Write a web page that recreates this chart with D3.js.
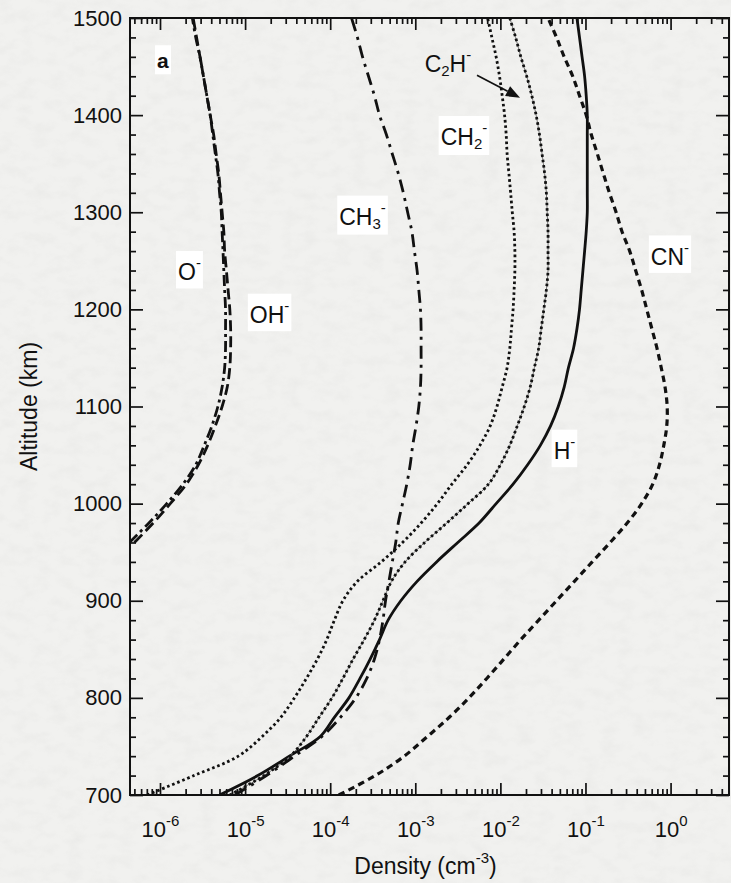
<!DOCTYPE html>
<html>
<head>
<meta charset="utf-8">
<script src="https://cdn.jsdelivr.net/npm/d3@7/dist/d3.min.js"></script>
<style>
  html, body { margin: 0; padding: 0; background: #f0f0ee; }
  svg { display: block; }
  text { font-family: "Liberation Sans", Arial, Helvetica, sans-serif; fill: #111; }
</style>
</head>
<body>
<svg id="chart" width="731" height="883"></svg>
<script>
// Altitude grids (km)
const altitudeKm = [700,720,740,760,780,800,820,840,860,880,900,920,940,960,980,
  1000,1020,1040,1060,1080,1100,1120,1140,1160,1180,1200,1220,1240,1260,1280,
  1300,1320,1340,1360,1380,1400,1420,1440,1460,1480,1500];
const altitudeOxyKm = [960,980,1000,1020,1040,1060,1080,1100,1120,1140,1160,1180,1200,
  1220,1240,1260,1280,1300,1320,1340,1360,1380,1400,1420,1440,1460,1480,1500];

// Negative ion densities (cm^-3)
const hMinus = [5.0e-6,1.41e-5,3.31e-5,7.59e-5,1.12e-4,1.66e-4,2.24e-4,2.95e-4,3.80e-4,4.79e-4,
  6.76e-4,1.05e-3,1.78e-3,3.16e-3,5.62e-3,8.91e-3,1.41e-2,2.09e-2,2.95e-2,3.89e-2,
  4.79e-2,5.62e-2,6.31e-2,7.24e-2,7.94e-2,8.51e-2,8.91e-2,9.33e-2,9.77e-2,0.102,
  0.105,0.105,0.105,0.105,0.105,0.105,0.102,9.77e-2,9.12e-2,8.51e-2,7.94e-2];
const cnMinus = [1.26e-4,3.39e-4,7.41e-4,1.38e-3,2.51e-3,4.27e-3,6.92e-3,1.10e-2,1.74e-2,2.82e-2,
  4.57e-2,7.41e-2,0.120,0.195,0.309,0.457,0.617,0.741,0.832,0.902,
  0.912,0.861,0.776,0.692,0.603,0.525,0.457,0.389,0.331,0.269,
  0.229,0.191,0.162,0.138,0.117,0.102,8.51e-2,7.08e-2,5.62e-2,4.57e-2,3.63e-2];
const ch2Minus = [7.08e-7,2.51e-6,8.32e-6,1.58e-5,2.63e-5,3.80e-5,5.25e-5,7.08e-5,9.12e-5,1.12e-4,
  1.41e-4,2.09e-4,3.98e-4,7.08e-4,1.17e-3,1.82e-3,2.69e-3,4.07e-3,5.75e-3,7.59e-3,
  9.12e-3,1.05e-2,1.20e-2,1.29e-2,1.35e-2,1.41e-2,1.45e-2,1.48e-2,1.48e-2,1.45e-2,
  1.38e-2,1.32e-2,1.26e-2,1.20e-2,1.17e-2,1.12e-2,1.05e-2,9.77e-3,8.91e-3,7.94e-3,7.08e-3];
const c2hMinus = [6.61e-6,1.66e-5,3.39e-5,5.25e-5,7.41e-5,1.05e-4,1.41e-4,1.86e-4,2.51e-4,3.31e-4,
  4.17e-4,5.25e-4,7.59e-4,1.29e-3,2.34e-3,4.17e-3,7.24e-3,1.00e-2,1.29e-2,1.58e-2,
  1.91e-2,2.24e-2,2.51e-2,2.82e-2,3.02e-2,3.24e-2,3.47e-2,3.63e-2,3.63e-2,3.63e-2,
  3.55e-2,3.47e-2,3.31e-2,3.09e-2,2.88e-2,2.63e-2,2.34e-2,2.04e-2,1.74e-2,1.51e-2,1.29e-2];
const ch3Minus = [7.59e-6,1.78e-5,3.80e-5,7.94e-5,1.32e-4,2.00e-4,2.69e-4,3.31e-4,3.80e-4,4.17e-4,
  4.47e-4,4.90e-4,5.37e-4,5.89e-4,6.31e-4,7.08e-4,7.94e-4,8.71e-4,9.33e-4,1.02e-3,
  1.10e-3,1.15e-3,1.17e-3,1.17e-3,1.17e-3,1.15e-3,1.10e-3,1.05e-3,9.77e-4,9.12e-4,
  8.13e-4,7.24e-4,6.31e-4,5.37e-4,4.57e-4,3.80e-4,3.31e-4,2.82e-4,2.40e-4,2.09e-4,1.78e-4];
const oMinus = [5.01e-7,8.32e-7,1.32e-6,2.04e-6,2.82e-6,3.63e-6,4.47e-6,5.37e-6,6.17e-6,6.61e-6,
  6.76e-6,6.76e-6,6.61e-6,6.31e-6,6.03e-6,5.75e-6,5.62e-6,5.37e-6,5.13e-6,4.90e-6,
  4.57e-6,4.27e-6,3.89e-6,3.55e-6,3.24e-6,2.95e-6,2.69e-6,2.45e-6];
const ohMinus = [4.37e-7,7.41e-7,1.20e-6,1.86e-6,2.63e-6,3.31e-6,4.07e-6,4.79e-6,5.37e-6,5.75e-6,
  5.89e-6,5.89e-6,5.89e-6,5.75e-6,5.62e-6,5.50e-6,5.37e-6,5.25e-6,5.01e-6,4.79e-6,
  4.47e-6,4.17e-6,3.89e-6,3.55e-6,3.24e-6,2.95e-6,2.63e-6,2.40e-6];

// Axis ticks
const altitudeTicks = [700,800,900,1000,1100,1200,1300,1400,1500];
const densityDecades = [1e-6,1e-5,1e-4,1e-3,1e-2,1e-1,1e0];
const decadeExponents = ["-6","-5","-4","-3","-2","-1","0"];

const svg = d3.select("#chart");
const W = 731, H = 883;
const plot = { left: 130, right: 729, top: 18, bottom: 795 };
const INK = "#111";

// Paper background with a faint grain
const defs = svg.append("defs");
const grain = defs.append("filter").attr("id", "grain")
  .attr("x", 0).attr("y", 0).attr("width", "100%").attr("height", "100%");
grain.append("feTurbulence").attr("type", "fractalNoise")
  .attr("baseFrequency", "0.06 0.09").attr("numOctaves", 3).attr("seed", 11).attr("result", "n");
grain.append("feColorMatrix").attr("in", "n").attr("type", "matrix")
  .attr("values", "0 0 0 0 0.45  0 0 0 0 0.45  0 0 0 0 0.44  0.45 0 0 0 -0.19");
svg.append("rect").attr("width", W).attr("height", H).attr("fill", "#f1f1ef");
svg.append("rect").attr("width", W).attr("height", H).attr("fill", "#fff")
  .attr("filter", "url(#grain)").attr("opacity", 0.4);

defs.append("clipPath").attr("id", "plotClip").append("rect")
  .attr("x", plot.left).attr("y", plot.top)
  .attr("width", plot.right - plot.left).attr("height", plot.bottom - plot.top);

const x = d3.scaleLog().domain([4.44e-7, 4.86]).range([plot.left, plot.right]);
const y = d3.scaleLinear().domain([700, 1500]).range([plot.bottom, plot.top]);

// Profiles; each entry may stack several strokes to build its line pattern
const series = [
  { name: "H-",   alt: altitudeKm,    dens: hMinus,   strokes: [{ w: 2.8, dash: null }] },
  { name: "CN-",  alt: altitudeKm,    dens: cnMinus,  strokes: [{ w: 3.2, dash: "6.5,4.5" }] },
  { name: "CH2-", alt: altitudeKm,    dens: ch2Minus, strokes: [{ w: 2.8, dash: "2.6,2.8" }] },
  { name: "C2H-", alt: altitudeKm,    dens: c2hMinus, strokes: [{ w: 0.9, dash: null, c: "#666" },
                                                              { w: 2.8, dash: "2.6,2.8" }] },
  { name: "CH3-", alt: altitudeKm,    dens: ch3Minus, strokes: [{ w: 2.8, dash: "13,6,3,6" }] },
  { name: "O-",   alt: altitudeOxyKm, dens: oMinus,   strokes: [{ w: 2.8, dash: "11,5" }] },
  { name: "OH-",  alt: altitudeOxyKm, dens: ohMinus,  strokes: [{ w: 2.8, dash: "11,4,3,4" }] }
];

const line = d3.line()
  .x(d => x(d[1]))
  .y(d => y(d[0]))
  .curve(d3.curveCatmullRom.alpha(0.5));

const curves = svg.append("g").attr("clip-path", "url(#plotClip)");
series.forEach(s => {
  const pts = s.alt.map((a, i) => [a, s.dens[i]]);
  s.strokes.forEach(st => {
    curves.append("path")
      .datum(pts)
      .attr("d", line)
      .attr("fill", "none")
      .attr("stroke", st.c || INK)
      .attr("stroke-width", st.w)
      .attr("stroke-dasharray", st.dash)
      .attr("stroke-linejoin", "round");
  });
});

// Axes (ticks point into the plot)
const minorDensity = x.ticks().filter(v => densityDecades.indexOf(v) < 0 &&
  v >= x.domain()[0] && v <= x.domain()[1]);
const minorAltitude = d3.range(700, 1501, 20).filter(v => v % 100 !== 0);

function styleAxis(g) {
  g.select(".domain").remove();
  g.selectAll(".tick line").attr("stroke", INK).attr("stroke-width", 1.7);
}

svg.append("g").attr("transform", `translate(0,${plot.bottom})`)
  .call(d3.axisBottom(x).tickValues(minorDensity).tickSizeInner(-6).tickSizeOuter(0).tickFormat(""))
  .call(styleAxis);
const xMajor = svg.append("g").attr("transform", `translate(0,${plot.bottom})`)
  .call(d3.axisBottom(x).tickValues(densityDecades).tickSizeInner(-12).tickSizeOuter(0)
    .tickFormat((d, i) => decadeExponents[i]))
  .call(styleAxis);
xMajor.selectAll(".tick text").each(function (d, i) {
  const t = d3.select(this);
  const exp = decadeExponents[i];
  t.text(null).attr("font-size", 22).attr("dy", null).attr("y", 42)
    .attr("text-anchor", "middle").attr("fill", INK)
    .attr("font-family", "'Liberation Sans', Arial, sans-serif");
  t.append("tspan").text("10");
  t.append("tspan").attr("font-size", 15).attr("dy", -11).text(exp);
});

svg.append("g").attr("transform", `translate(0,${plot.top})`)
  .call(d3.axisTop(x).tickValues(minorDensity).tickSizeInner(-6).tickSizeOuter(0).tickFormat(""))
  .call(styleAxis);
svg.append("g").attr("transform", `translate(0,${plot.top})`)
  .call(d3.axisTop(x).tickValues(densityDecades).tickSizeInner(-12).tickSizeOuter(0).tickFormat(""))
  .call(styleAxis);

svg.append("g").attr("transform", `translate(${plot.left},0)`)
  .call(d3.axisLeft(y).tickValues(minorAltitude).tickSizeInner(-6).tickSizeOuter(0).tickFormat(""))
  .call(styleAxis);
const yMajor = svg.append("g").attr("transform", `translate(${plot.left},0)`)
  .call(d3.axisLeft(y).tickValues(altitudeTicks).tickSizeInner(-13).tickSizeOuter(0)
    .tickFormat(d3.format("d")))
  .call(styleAxis);
yMajor.selectAll(".tick text").attr("font-size", 22).attr("x", -8).attr("fill", INK)
  .attr("font-family", "'Liberation Sans', Arial, sans-serif");

svg.append("g").attr("transform", `translate(${plot.right},0)`)
  .call(d3.axisRight(y).tickValues(minorAltitude).tickSizeInner(-6).tickSizeOuter(0).tickFormat(""))
  .call(styleAxis);
svg.append("g").attr("transform", `translate(${plot.right},0)`)
  .call(d3.axisRight(y).tickValues(altitudeTicks).tickSizeInner(-13).tickSizeOuter(0).tickFormat(""))
  .call(styleAxis);

// Frame
svg.append("rect")
  .attr("x", plot.left).attr("y", plot.top)
  .attr("width", plot.right - plot.left).attr("height", plot.bottom - plot.top)
  .attr("fill", "none").attr("stroke", INK).attr("stroke-width", 2);

// Axis titles
svg.append("text")
  .attr("transform", `translate(37,${(plot.top + plot.bottom) / 2}) rotate(-90)`)
  .attr("text-anchor", "middle").attr("font-size", 23)
  .text("Altitude (km)");
const xt = svg.append("text")
  .attr("x", (plot.left + plot.right) / 2 - 4).attr("y", 874)
  .attr("text-anchor", "middle").attr("font-size", 23);
xt.append("tspan").text("Density (cm");
xt.append("tspan").attr("font-size", 15).attr("dy", -11).text("-3");
xt.append("tspan").attr("dy", 11).text(")");

// Species labels, anchored in data space; parts: [text, kind] with kind sub/sup/normal
const labels = [
  { parts: [["a", "b"]], alt: 1457, dens: 1.08e-6, box: true },
  { parts: [["O", ""], ["-", "sup"]], alt: 1238, dens: 2.22e-6, box: true },
  { parts: [["OH", ""], ["-", "sup"]], alt: 1194, dens: 1.94e-5, box: true },
  { parts: [["CH", ""], ["3", "sub"], ["-", "sup2"]], alt: 1295, dens: 2.40e-4, box: true },
  { parts: [["CH", ""], ["2", "sub"], ["-", "sup2"]], alt: 1377, dens: 3.73e-3, box: true },
  { parts: [["C", ""], ["2", "sub"], ["H", "back"], ["-", "sup"]], alt: 1453, dens: 2.42e-3, box: false },
  { parts: [["CN", ""], ["-", "sup"]], alt: 1254, dens: 0.984, box: true },
  { parts: [["H", ""], ["-", "sup"]], alt: 1054, dens: 5.66e-2, box: true }
];

const labelLayer = svg.append("g");
labels.forEach(l => {
  const g = labelLayer.append("g");
  const t = g.append("text").attr("x", x(l.dens)).attr("y", y(l.alt))
    .attr("text-anchor", "middle").attr("dominant-baseline", "central")
    .attr("font-size", 23);
  l.parts.forEach(([txt, kind]) => {
    const ts = t.append("tspan").text(txt);
    if (kind === "b") ts.attr("font-weight", "bold").attr("font-size", 21);
    if (kind === "sub") ts.attr("font-size", 15).attr("dy", 6);
    if (kind === "back") ts.attr("dy", -6);
    if (kind === "sup") ts.attr("font-size", 15).attr("dy", -10);
    if (kind === "sup2") ts.attr("font-size", 15).attr("dy", -16);
  });
  if (l.box) {
    const bb = t.node().getBBox();
    g.insert("rect", "text")
      .attr("x", bb.x - 2).attr("y", bb.y - 3)
      .attr("width", bb.width + 4).attr("height", bb.height + 6)
      .attr("fill", "#ffffff");
  }
});

// Arrow pointing from the C2H- label to its profile
const arrowFrom = { alt: 1441, dens: 5.31e-3 };
const arrowTo = { alt: 1418, dens: 1.70e-2 };
const ax0 = x(arrowFrom.dens), ay0 = y(arrowFrom.alt);
const ax1 = x(arrowTo.dens), ay1 = y(arrowTo.alt);
const ang = Math.atan2(ay1 - ay0, ax1 - ax0);
const headLen = 14, headHalf = 5.5;
const bx = ax1 - headLen * Math.cos(ang), by = ay1 - headLen * Math.sin(ang);
svg.append("line").attr("x1", ax0).attr("y1", ay0).attr("x2", bx).attr("y2", by)
  .attr("stroke", INK).attr("stroke-width", 1.7);
svg.append("path")
  .attr("d", `M${ax1},${ay1}L${bx - headHalf * Math.sin(ang)},${by + headHalf * Math.cos(ang)}` +
    `L${bx + headHalf * Math.sin(ang)},${by - headHalf * Math.cos(ang)}Z`)
  .attr("fill", INK);
</script>
</body>
</html>
